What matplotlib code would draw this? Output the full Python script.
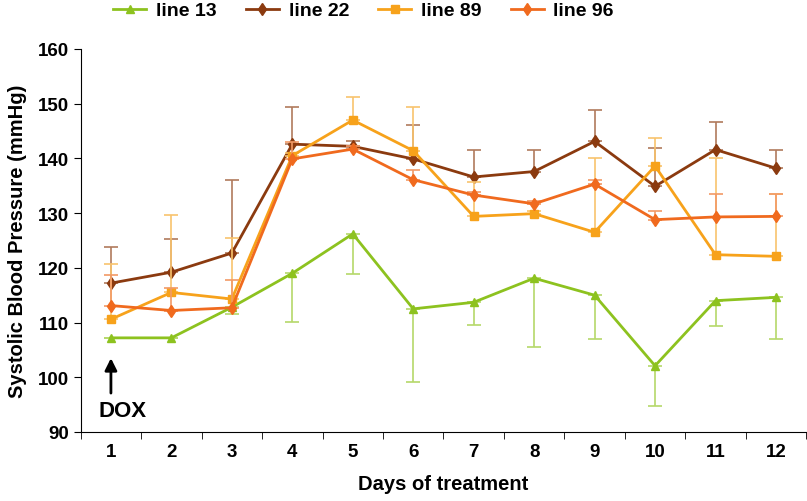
import matplotlib.pyplot as plt
import numpy as np

plt.rcParams['font.family'] = ['Liberation Sans', 'DejaVu Sans']
plt.rcParams['font.weight'] = 'bold'

days = list(range(1, 13))

# mean systolic pressure per line
line13 = [107.2, 107.2, 112.8, 119.0, 126.2, 112.5, 113.7, 118.1, 115.0, 102.1, 114.0, 114.6]
line22 = [117.2, 119.2, 122.7, 142.6, 142.2, 139.9, 136.6, 137.6, 143.1, 134.9, 141.6, 138.2]
line89 = [110.6, 115.5, 114.3, 140.5, 147.0, 141.4, 129.4, 129.9, 126.5, 138.6, 122.4, 122.1]
line96 = [113.1, 112.2, 112.7, 139.9, 141.7, 136.1, 133.3, 131.7, 135.3, 128.8, 129.3, 129.4]

# one-sided error bars (line 13 downward, the rest upward)
err13 = [0.0, 0.0, 1.2, 8.9, 7.3, 13.3, 4.1, 12.6, 8.0, 7.3, 4.7, 7.6]
err22 = [6.6, 6.1, 13.3, 6.8, 0.9, 6.2, 5.0, 4.0, 5.8, 7.0, 5.1, 3.4]
err89 = [10.1, 14.1, 11.2, 0.5, 4.3, 8.0, 6.2, 0.5, 13.6, 5.1, 17.7, 11.3]
err96 = [5.5, 4.1, 5.1, 3.1, 0.5, 1.8, 0.5, 0.5, 0.8, 1.5, 4.1, 4.0]

fig = plt.figure(figsize=(8.07, 5.02), dpi=100)
ax = fig.add_axes([0.1, 0.1375, 0.899, 0.763])

series = [
    ('line 13', line13, err13, '#8dc21f', '#b5d86a', '^', 'down'),
    ('line 22', line22, err22, '#8b3a0f', '#b07a5c', 'd', 'up'),
    ('line 89', line89, err89, '#f7a21b', '#f8c36d', 's', 'up'),
    ('line 96', line96, err96, '#f06a1e', '#f29a66', 'd', 'up'),
]

for label, vals, err, col, ecol, mk, side in series:
    zeros = np.zeros(len(err))
    yerr = [err, zeros] if side == 'down' else [zeros, err]
    ax.errorbar(days, vals, yerr=yerr, fmt='none', ecolor=ecol, elinewidth=1.2,
                capsize=5, capthick=1.2)
    ax.plot(days, vals, color=col, marker=mk, markersize=6, linewidth=2, label=label)

ax.set_xlim(0.5, 12.5)
ax.set_ylim(90, 160)
ax.set_yticks(np.arange(90, 161, 10))
ax.set_xticks(days)
ax.set_xticks(np.arange(0.5, 13, 1), minor=True)
ax.tick_params(axis='x', which='major', length=0, labelsize=13.5, pad=8)
ax.tick_params(axis='x', which='minor', length=5, direction='out')
ax.tick_params(axis='y', length=5, labelsize=13.5)
for s in ['top', 'right']:
    ax.spines[s].set_visible(False)

ax.set_xlabel('Days of treatment', fontsize=14.5, fontweight='bold', labelpad=10)
ax.set_ylabel('Systolic Blood Pressure (mmHg)', fontsize=14.5, fontweight='bold', labelpad=8)

ax.annotate('', xy=(1, 104), xytext=(1, 96.6),
            arrowprops=dict(arrowstyle='-|>', color='black', lw=2, mutation_scale=18))
ax.text(1.2, 94, 'DOX', fontsize=16, fontweight='bold', ha='center', va='center')

ax.legend(loc='center', bbox_to_anchor=(0.39, 1.1), ncol=4, frameon=False,
          fontsize=14, handlelength=1.7, columnspacing=1.5, handletextpad=0.5)

fig.savefig('out.png', dpi=100)
